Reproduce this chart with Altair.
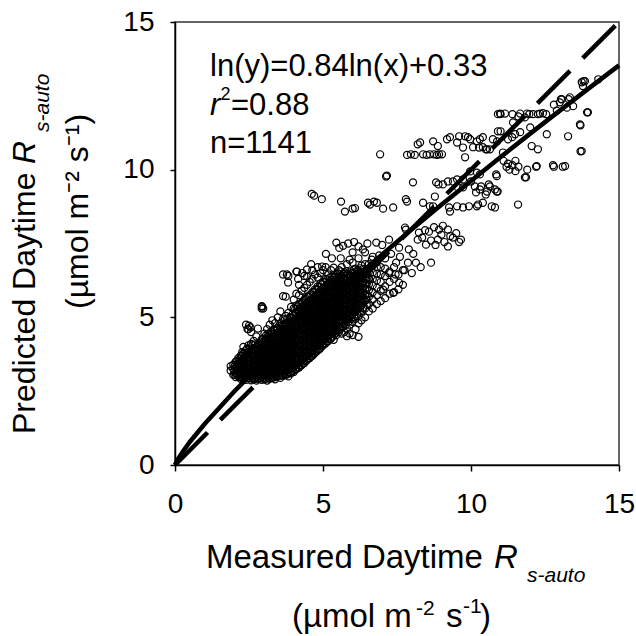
import altair as alt
import pandas as pd

# ---------------- data ----------------
# dense cloud, set A: measured value (column) -> predicted values
blob_x = [1.88, 1.97, 2.05, 2.14, 2.22, 2.31, 2.40, 2.48, 2.57, 2.66, 2.75, 2.84, 2.93, 3.02, 3.11,
          3.20, 3.29, 3.38, 3.47, 3.56, 3.65, 3.74, 3.83, 3.92, 4.01, 4.10, 4.19, 4.28, 4.37, 4.46,
          4.55, 4.64, 4.73, 4.82, 4.91, 5.00, 5.09, 5.18, 5.27, 5.36, 5.45, 5.54, 5.63, 5.72, 5.81,
          5.90, 6.00, 6.10, 6.20, 6.30, 6.42, 6.55, 6.68, 6.82, 6.95, 7.10, 7.25, 7.40, 7.55, 7.70]
blob_y = [
    [3.2, 3.35],
    [3.05, 3.25, 3.4],
    [2.98, 3.12, 3.3, 3.5],
    [3.0, 3.15, 3.28, 3.45, 3.62],
    [2.92, 3.08, 3.22, 3.36, 3.5, 3.7],
    [2.9, 3.05, 3.18, 3.33, 3.47, 3.6, 3.78, 4.0],
    [2.88, 3.02, 3.15, 3.3, 3.44, 3.58, 3.72, 3.9, 4.75],
    [2.95, 3.1, 3.24, 3.38, 3.52, 3.66, 3.82, 4.05, 4.6],
    [2.87, 3.0, 3.14, 3.28, 3.42, 3.56, 3.7, 3.86, 4.1, 4.5],
    [2.9, 3.05, 3.2, 3.34, 3.48, 3.62, 3.77, 3.93, 4.2],
    [2.86, 2.98, 3.12, 3.27, 3.4, 3.55, 3.7, 3.84, 4.0, 4.35],
    [2.92, 3.06, 3.2, 3.35, 3.5, 3.64, 3.78, 3.95, 4.12],
    [2.88, 3.02, 3.16, 3.3, 3.45, 3.58, 3.72, 3.88, 4.05, 4.25, 5.3, 5.38],
    [2.9, 3.04, 3.18, 3.33, 3.47, 3.6, 3.75, 3.9, 4.06, 4.22, 4.45],
    [2.86, 3.0, 3.14, 3.28, 3.42, 3.56, 3.7, 3.85, 4.0, 4.15, 4.32, 4.6],
    [2.92, 3.07, 3.22, 3.36, 3.5, 3.64, 3.78, 3.93, 4.08, 4.24, 4.4, 4.75],
    [2.95, 3.1, 3.25, 3.4, 3.54, 3.68, 3.82, 3.97, 4.12, 4.28, 4.5, 4.9],
    [2.9, 3.04, 3.18, 3.32, 3.46, 3.6, 3.75, 3.9, 4.05, 4.2, 4.36, 4.55, 4.8],
    [3.0, 3.14, 3.28, 3.43, 3.57, 3.72, 3.86, 4.0, 4.15, 4.3, 4.46, 4.65, 5.0],
    [2.95, 3.1, 3.25, 3.4, 3.55, 3.7, 3.84, 3.98, 4.13, 4.28, 4.43, 4.6, 4.8, 5.2],
    [3.02, 3.18, 3.33, 3.48, 3.62, 3.77, 3.92, 4.06, 4.2, 4.36, 4.52, 4.7, 4.95, 6.45],
    [3.05, 3.2, 3.36, 3.5, 3.65, 3.8, 3.95, 4.1, 4.25, 4.4, 4.56, 4.75, 5.05, 5.7],
    [3.0, 3.14, 3.3, 3.45, 3.6, 3.74, 3.9, 4.04, 4.2, 4.35, 4.5, 4.66, 4.85, 5.15, 6.4],
    [3.1, 3.26, 3.42, 3.57, 3.72, 3.87, 4.02, 4.17, 4.32, 4.48, 4.64, 4.8, 5.0, 5.35],
    [3.15, 3.3, 3.46, 3.6, 3.76, 3.9, 4.05, 4.2, 4.36, 4.52, 4.68, 4.85, 5.05, 5.3, 5.6],
    [3.25, 3.4, 3.55, 3.7, 3.85, 4.0, 4.15, 4.3, 4.46, 4.62, 4.78, 4.95, 5.15, 5.4, 5.8, 6.55],
    [3.3, 3.46, 3.62, 3.77, 3.92, 4.08, 4.23, 4.38, 4.54, 4.7, 4.86, 5.02, 5.2, 5.45, 5.75, 6.1],
    [3.38, 3.54, 3.7, 3.85, 4.0, 4.15, 4.3, 4.46, 4.62, 4.78, 4.94, 5.1, 5.28, 5.5, 5.9],
    [3.45, 3.6, 3.76, 3.92, 4.08, 4.24, 4.4, 4.55, 4.7, 4.86, 5.02, 5.18, 5.36, 5.6, 6.0, 6.4],
    [3.55, 3.7, 3.86, 4.02, 4.18, 4.34, 4.5, 4.66, 4.82, 4.98, 5.14, 5.3, 5.48, 5.7, 6.1, 6.38],
    [3.62, 3.78, 3.94, 4.1, 4.26, 4.42, 4.58, 4.74, 4.9, 5.06, 5.22, 5.38, 5.55, 5.75, 6.2],
    [3.7, 3.86, 4.02, 4.18, 4.34, 4.5, 4.66, 4.82, 4.98, 5.14, 5.3, 5.46, 5.63, 5.85, 6.3, 6.6],
    [3.8, 3.96, 4.12, 4.28, 4.44, 4.6, 4.76, 4.92, 5.08, 5.24, 5.4, 5.56, 5.72, 5.95, 6.45],
    [3.88, 4.04, 4.2, 4.36, 4.52, 4.68, 4.84, 5.0, 5.16, 5.32, 5.48, 5.64, 5.8, 6.05, 6.35, 6.7],
    [3.95, 4.12, 4.28, 4.44, 4.6, 4.76, 4.92, 5.08, 5.24, 5.4, 5.56, 5.72, 5.9, 6.15, 6.5],
    [4.05, 4.2, 4.36, 4.52, 4.68, 4.84, 5.0, 5.16, 5.32, 5.48, 5.64, 5.8, 5.98, 6.2, 6.6],
    [4.12, 4.28, 4.44, 4.6, 4.76, 4.92, 5.08, 5.24, 5.4, 5.56, 5.72, 5.88, 6.05, 6.3, 6.7],
    [4.2, 4.36, 4.52, 4.68, 4.84, 5.0, 5.16, 5.32, 5.48, 5.64, 5.8, 5.96, 6.15, 6.45],
    [4.28, 4.44, 4.6, 4.76, 4.92, 5.08, 5.24, 5.4, 5.56, 5.72, 5.88, 6.05, 6.25, 6.6],
    [4.24, 4.5, 4.68, 4.84, 5.0, 5.16, 5.32, 5.48, 5.64, 5.8, 5.96, 6.12, 6.35, 6.68],
    [4.4, 4.58, 4.76, 4.92, 5.08, 5.24, 5.4, 5.56, 5.72, 5.88, 6.04, 6.2, 6.45],
    [4.5, 4.68, 4.85, 5.02, 5.18, 5.34, 5.5, 5.66, 5.82, 5.98, 6.14, 6.32, 6.6],
    [4.45, 4.7, 4.9, 5.08, 5.26, 5.42, 5.58, 5.74, 5.9, 6.06, 6.22, 6.4, 6.7],
    [4.5, 4.78, 5.0, 5.18, 5.35, 5.52, 5.68, 5.84, 6.0, 6.16, 6.32, 6.52],
    [4.36, 4.62, 4.9, 5.1, 5.28, 5.45, 5.62, 5.78, 5.94, 6.1, 6.26, 6.45, 6.8],
    [4.45, 4.75, 5.0, 5.2, 5.38, 5.56, 5.72, 5.88, 6.04, 6.2, 6.38, 6.95],
    [4.4, 4.85, 5.1, 5.3, 5.48, 5.65, 5.82, 5.98, 6.14, 6.3, 6.5, 6.85],
    [4.6, 4.95, 5.2, 5.4, 5.58, 5.75, 5.92, 6.08, 6.25, 6.42, 6.65],
    [4.34, 4.8, 5.05, 5.3, 5.5, 5.68, 5.85, 6.02, 6.2, 6.38, 6.6, 7.0],
    [4.9, 5.15, 5.4, 5.6, 5.78, 5.96, 6.14, 6.32, 6.5, 6.75],
    [5.0, 5.3, 5.55, 5.75, 5.95, 6.15, 6.35, 6.55, 6.8, 7.2],
    [5.2, 5.45, 5.7, 5.92, 6.12, 6.32, 6.55, 6.8],
    [5.3, 5.6, 5.85, 6.08, 6.3, 6.52, 6.75, 7.05],
    [5.45, 5.75, 6.0, 6.25, 6.48, 6.7],
    [5.55, 5.9, 6.2, 6.45, 6.7],
    [5.65, 6.05, 6.4, 6.65],
    [5.8, 6.2, 6.55],
    [5.85, 6.3, 6.7],
    [5.95, 6.45],
    [6.1, 6.6],
]

# dense cloud, set B (core of the cloud, between the columns of set A)
core_x = [2.01, 2.10, 2.18, 2.27, 2.36, 2.44, 2.53, 2.62, 2.71, 2.80, 2.89, 2.98, 3.07, 3.16, 3.25,
          3.34, 3.43, 3.52, 3.61, 3.70, 3.79, 3.88, 3.97, 4.06, 4.15, 4.24, 4.33, 4.42, 4.51, 4.60,
          4.69, 4.78, 4.87, 4.96, 5.05, 5.14, 5.23, 5.32, 5.41, 5.50, 5.59, 5.68, 5.77, 5.86, 5.95,
          6.05, 6.15, 6.25, 6.36, 6.48]
core_y = [
    [3.06, 3.2, 3.34],
    [3.04, 3.2, 3.36, 3.52],
    [2.98, 3.14, 3.29, 3.43, 3.58],
    [2.97, 3.12, 3.26, 3.4, 3.55, 3.69, 3.82],
    [2.95, 3.09, 3.23, 3.37, 3.51, 3.65, 3.8],
    [2.94, 3.08, 3.22, 3.37, 3.51, 3.65, 3.79, 3.94],
    [2.93, 3.07, 3.21, 3.35, 3.49, 3.63, 3.78, 3.95],
    [2.94, 3.08, 3.22, 3.36, 3.5, 3.64, 3.79, 3.94, 4.06],
    [2.92, 3.06, 3.2, 3.34, 3.48, 3.62, 3.77, 3.92, 4.08],
    [2.93, 3.06, 3.2, 3.34, 3.48, 3.62, 3.76, 3.91, 4.06],
    [2.94, 3.08, 3.22, 3.37, 3.51, 3.65, 3.8, 3.95, 4.1, 4.18],
    [2.95, 3.1, 3.24, 3.38, 3.53, 3.67, 3.82, 3.97, 4.13, 4.28],
    [2.93, 3.07, 3.21, 3.35, 3.5, 3.64, 3.78, 3.93, 4.08, 4.23, 4.38],
    [2.94, 3.08, 3.22, 3.36, 3.5, 3.65, 3.8, 3.95, 4.1, 4.26, 4.45],
    [2.98, 3.13, 3.28, 3.43, 3.58, 3.72, 3.87, 4.02, 4.17, 4.33, 4.52],
    [2.97, 3.11, 3.25, 3.39, 3.53, 3.68, 3.83, 3.98, 4.13, 4.28, 4.44, 4.6],
    [2.98, 3.12, 3.26, 3.4, 3.55, 3.7, 3.85, 3.99, 4.14, 4.3, 4.46, 4.62],
    [3.02, 3.17, 3.32, 3.47, 3.62, 3.76, 3.91, 4.06, 4.21, 4.36, 4.52, 4.7],
    [3.04, 3.19, 3.34, 3.49, 3.64, 3.79, 3.94, 4.09, 4.24, 4.4, 4.56, 4.74],
    [3.08, 3.23, 3.38, 3.53, 3.68, 3.83, 3.98, 4.13, 4.28, 4.44, 4.6, 4.78, 4.9],
    [3.07, 3.22, 3.37, 3.52, 3.67, 3.82, 3.97, 4.12, 4.28, 4.43, 4.59, 4.76, 4.95],
    [3.12, 3.27, 3.42, 3.57, 3.72, 3.87, 4.02, 4.17, 4.32, 4.48, 4.64, 4.81, 5.0],
    [3.18, 3.33, 3.48, 3.64, 3.79, 3.94, 4.1, 4.25, 4.4, 4.56, 4.72, 4.9, 5.1],
    [3.22, 3.38, 3.53, 3.68, 3.83, 3.98, 4.13, 4.28, 4.44, 4.6, 4.76, 4.93, 5.12, 5.28],
    [3.3, 3.46, 3.62, 3.77, 3.92, 4.07, 4.22, 4.38, 4.54, 4.7, 4.86, 5.03, 5.22, 5.38],
    [3.36, 3.52, 3.68, 3.84, 4.0, 4.15, 4.3, 4.46, 4.62, 4.78, 4.94, 5.11, 5.3, 5.45],
    [3.44, 3.6, 3.76, 3.92, 4.08, 4.23, 4.38, 4.54, 4.7, 4.86, 5.02, 5.19, 5.38, 5.55],
    [3.52, 3.68, 3.84, 4.0, 4.16, 4.32, 4.48, 4.63, 4.78, 4.94, 5.1, 5.27, 5.45, 5.62],
    [3.6, 3.76, 3.92, 4.08, 4.24, 4.4, 4.56, 4.72, 4.88, 5.04, 5.2, 5.36, 5.53, 5.7],
    [3.68, 3.84, 4.0, 4.16, 4.32, 4.48, 4.64, 4.8, 4.96, 5.12, 5.28, 5.44, 5.6, 5.78],
    [3.76, 3.92, 4.08, 4.24, 4.4, 4.56, 4.72, 4.88, 5.04, 5.2, 5.36, 5.52, 5.68, 5.86],
    [3.84, 4.0, 4.16, 4.32, 4.48, 4.64, 4.8, 4.96, 5.12, 5.28, 5.44, 5.6, 5.76, 5.94],
    [3.92, 4.08, 4.24, 4.4, 4.56, 4.72, 4.88, 5.04, 5.2, 5.36, 5.52, 5.68, 5.84, 6.02],
    [4.02, 4.18, 4.34, 4.5, 4.66, 4.82, 4.98, 5.14, 5.3, 5.46, 5.62, 5.78, 5.95, 6.12],
    [4.1, 4.26, 4.42, 4.58, 4.74, 4.9, 5.06, 5.22, 5.38, 5.54, 5.7, 5.86, 6.03, 6.2],
    [4.18, 4.34, 4.5, 4.66, 4.82, 4.98, 5.14, 5.3, 5.46, 5.62, 5.78, 5.94, 6.1, 6.28],
    [4.26, 4.42, 4.58, 4.74, 4.9, 5.06, 5.22, 5.38, 5.54, 5.7, 5.86, 6.02, 6.18, 6.34],
    [4.34, 4.5, 4.66, 4.82, 4.98, 5.14, 5.3, 5.46, 5.62, 5.78, 5.94, 6.1, 6.26, 6.42],
    [4.45, 4.62, 4.78, 4.94, 5.1, 5.26, 5.42, 5.58, 5.74, 5.9, 6.06, 6.22, 6.38],
    [4.55, 4.72, 4.88, 5.04, 5.2, 5.36, 5.52, 5.68, 5.84, 6.0, 6.16, 6.32, 6.48],
    [4.6, 4.78, 4.95, 5.12, 5.28, 5.44, 5.6, 5.76, 5.92, 6.08, 6.24, 6.4, 6.55],
    [4.68, 4.86, 5.04, 5.2, 5.36, 5.52, 5.68, 5.84, 6.0, 6.16, 6.32, 6.48],
    [4.75, 4.94, 5.12, 5.28, 5.44, 5.6, 5.76, 5.92, 6.08, 6.24, 6.4, 6.56],
    [4.85, 5.04, 5.2, 5.36, 5.52, 5.68, 5.84, 6.0, 6.16, 6.32, 6.48],
    [4.95, 5.12, 5.28, 5.44, 5.6, 5.76, 5.92, 6.08, 6.24, 6.4, 6.56],
    [5.02, 5.2, 5.36, 5.52, 5.68, 5.84, 6.0, 6.16, 6.32, 6.48, 6.62],
    [5.1, 5.28, 5.46, 5.62, 5.78, 5.94, 6.1, 6.26, 6.42, 6.58],
    [5.2, 5.38, 5.55, 5.72, 5.88, 6.04, 6.2, 6.36, 6.52, 6.66],
    [5.3, 5.48, 5.66, 5.84, 6.0, 6.16, 6.32, 6.48, 6.64],
    [5.42, 5.6, 5.78, 5.96, 6.14, 6.3, 6.46, 6.62],
]

# scattered points outside the dense cloud (measured, predicted)
scatter_x = [2.94, 2.98, 2.50, 2.45, 2.55, 2.80, 3.78, 3.82, 4.12, 4.46, 3.65, 4.97, 4.16, 4.30, 4.60,
             5.45, 5.55, 5.68, 5.85, 6.00, 6.05, 6.20, 6.35, 6.50, 6.80, 7.00, 7.23, 7.57, 7.80, 7.77,
             7.47, 7.87, 8.14, 8.65, 7.23, 7.57, 7.37, 7.03, 6.55, 6.80, 6.90, 7.10, 7.30, 7.60, 7.45,
             7.75, 8.00, 8.30, 7.90, 8.05, 6.65, 5.30, 5.10, 5.60,
             8.24, 8.35, 8.45, 8.58, 8.65, 8.75, 8.88, 8.92, 9.00, 9.10, 9.22, 9.30, 9.39, 9.50, 9.66,
             9.60, 8.48, 9.22, 8.20, 8.80, 9.05,
             4.62, 4.70, 4.96, 5.61, 5.74, 6.00, 6.08, 6.52, 6.59, 6.72, 6.82, 7.03, 7.37, 7.80, 7.84,
             8.38, 8.61, 8.72, 8.78, 9.26, 9.29, 9.53, 9.73, 9.93, 10.20, 10.24, 10.40, 10.70, 10.81, 11.59,
             7.13, 7.16, 8.04, 8.82, 8.90, 9.05, 9.22, 9.39, 9.56, 9.73, 10.00, 10.13, 10.17, 10.30, 10.34,
             10.50, 10.54, 10.60, 10.64, 10.81, 10.87, 10.90, 10.87, 9.53, 9.73, 9.97, 10.20, 10.30, 10.85,
             11.86, 11.82,
             11.10, 11.20, 11.25, 11.30, 11.40, 11.50, 11.50, 11.60, 11.90, 12.20, 12.22, 12.77, 12.80,
             13.10, 13.18, 13.70, 13.74,
             6.93, 7.84, 7.97, 8.10, 8.38, 8.50, 8.61, 8.75, 8.85, 8.92, 9.02, 9.80,
             8.20, 8.28, 8.72, 8.88, 9.19, 9.29, 9.53, 9.60, 9.73, 9.80, 9.90, 9.97, 10.07, 10.20, 10.27,
             10.30, 10.40, 10.40, 10.50, 10.54, 10.64, 10.74, 10.88, 10.91, 11.00, 11.08, 11.25, 11.39,
             11.49, 11.66, 12.00, 12.05, 12.26, 12.56, 13.28, 13.68, 13.70,
             10.91, 10.98, 11.00, 11.15, 11.40, 11.42, 11.60, 11.66, 11.82, 11.89, 11.97, 12.10, 12.26,
             12.33, 12.43, 12.54, 13.92, 13.95,
             13.00, 13.04, 13.07, 13.24, 13.30, 13.34, 13.45, 13.74, 13.78, 13.80, 13.85, 14.30, 12.80, 12.90]
scatter_y = [5.36, 5.30, 4.72, 4.60, 4.66, 4.62, 6.45, 6.18, 6.55, 6.62, 5.72, 6.72, 6.30, 6.50, 6.80,
             7.53, 7.35, 7.42, 7.50, 7.20, 7.55, 7.40, 7.30, 7.50, 7.53, 7.45, 7.63, 7.36, 7.97, 8.04,
             6.85, 6.85, 6.85, 6.85, 6.50, 6.17, 5.83, 5.94, 6.28, 6.85, 7.10, 7.00, 7.15, 7.05, 6.45,
             6.60, 6.50, 6.70, 7.30, 7.15, 6.95, 7.00, 7.15, 7.00,
             7.87, 7.70, 7.95, 7.90, 7.60, 8.05, 7.63, 7.97, 7.80, 7.55, 7.97, 7.75, 7.70, 7.85, 7.63,
             7.55, 7.46, 7.40, 7.63, 7.45, 8.10,
             9.18, 9.12, 9.00, 8.92, 8.58, 8.68, 8.70, 8.88, 8.82, 8.92, 8.88, 8.68, 8.72, 9.00, 8.92,
             8.88, 8.76, 8.76, 9.09, 8.72, 8.58, 8.76, 8.72, 8.76, 8.76, 8.82, 8.88, 8.76, 8.72, 8.82,
             9.77, 9.80, 9.57, 9.57, 9.50, 9.50, 9.60, 9.60, 9.40, 9.40, 9.60, 9.43, 9.23, 9.33, 9.43,
             9.16, 9.26, 9.50, 9.43, 9.33, 9.26, 9.26, 9.78, 9.67, 9.67, 9.94, 9.90, 9.84, 9.84,
             9.74, 9.74,
             10.30, 10.10, 10.20, 10.00, 10.15, 10.30, 9.95, 10.10, 10.00, 10.10, 10.12, 10.15, 10.10,
             10.10, 10.12, 10.62, 10.63,
             10.52, 10.50, 10.52, 10.50, 10.52, 10.50, 10.52, 10.52, 10.50, 10.52, 10.52, 10.42,
             10.86, 10.92, 10.96, 10.80, 11.03, 11.10, 10.92, 11.13, 10.75, 11.13, 11.10, 11.03, 10.76, 10.96, 10.75,
             11.03, 10.76, 11.10, 10.69, 10.69, 10.69, 11.03, 10.96, 11.30, 11.30, 10.58, 11.03, 11.10,
             11.20, 11.27, 11.43, 10.80, 10.69, 11.20, 11.13, 11.53, 11.50,
             11.88, 11.90, 11.88, 11.90, 11.88, 11.60, 11.80, 11.90, 11.77, 11.90, 11.88, 11.88, 11.88,
             11.90, 11.91, 11.88, 11.94, 11.94,
             12.28, 12.39, 12.38, 12.10, 12.39, 12.45, 12.15, 12.96, 12.83, 13.00, 13.00, 13.06, 12.20, 12.00]

# fitted curve ln(y)=0.84ln(x)+0.33
fit_x = [0, 0.1, 0.25, 0.5, 1, 2, 3, 4, 5, 6, 7, 8, 9, 10, 11, 12, 13, 14, 15]
fit_y = [0, 0.20, 0.43, 0.78, 1.39, 2.49, 3.50, 4.46, 5.38, 6.27, 7.13, 7.98, 8.81, 9.62, 10.43,
         11.22, 12.00, 12.77, 13.53]

# 1:1 line
one_x = [0, 15]
one_y = [0, 15]

ticks = [0, 5, 10, 15]

# ---------------- tables ----------------
rows = []
for cols, vals in ((blob_x, blob_y), (core_x, core_y)):
    for xv, ys in zip(cols, vals):
        for yv in ys:
            rows.append({"m": xv, "p": yv})
for xv, yv in zip(scatter_x, scatter_y):
    rows.append({"m": xv, "p": yv})
pts = pd.DataFrame(rows)
fit = pd.DataFrame({"m": fit_x, "p": fit_y})
one = pd.DataFrame({"m": one_x, "p": one_y})

FONT = "Liberation Sans"
NARROW = "Liberation Sans Narrow, Liberation Sans"
xsc = alt.Scale(domain=[0, 15], nice=False, zero=False)
ysc = alt.Scale(domain=[0, 15], nice=False, zero=False)

xax = alt.Axis(values=ticks, title=None, labelFlush=False, labelPadding=19, tickSize=6)
yax = alt.Axis(values=ticks, title=None, labelPadding=16, tickSize=5)

points = alt.Chart(pts).mark_point(
    shape="circle", filled=False, size=50, strokeWidth=1.2, color="black", opacity=1
).encode(
    x=alt.X("m:Q", scale=xsc, axis=xax),
    y=alt.Y("p:Q", scale=ysc, axis=yax),
)

fit_line = alt.Chart(fit).mark_line(color="black", strokeWidth=4.5).encode(
    x=alt.X("m:Q", scale=xsc), y=alt.Y("p:Q", scale=ysc)
)
one_line = alt.Chart(one).mark_line(color="black", strokeWidth=4.5, strokeDash=[46, 18]).encode(
    x=alt.X("m:Q", scale=xsc), y=alt.Y("p:Q", scale=ysc)
)


def txt(s, x, y, size, italic=False, angle=0, font=FONT):
    return alt.Chart(pd.DataFrame({"k": [0]})).mark_text(
        text=s, align="left", baseline="alphabetic", fontSize=size, font=font,
        fontStyle="italic" if italic else "normal", angle=angle, color="black"
    ).encode(x=alt.value(x), y=alt.value(y))


texts = [
    # equation block
    txt("ln(y)=0.84ln(x)+0.33", 35, 54, 31),
    txt("r", 35, 93, 31, italic=True),
    txt("2", 45.5, 78, 18),
    txt("=0.88", 56, 93, 31),
    txt("n=1141", 35, 131, 31),
    # x title
    txt("Measured Daytime", 31, 546, 33),
    txt("R", 319, 546, 33, italic=True),
    txt("s-auto", 352, 560, 21, italic=True),
    txt("(µmol m", 117, 605, 33),
    txt("-2", 241, 593, 21),
    txt("s", 271, 605, 33),
    txt("-1", 288, 591, 21),
    txt(")", 305, 605, 33),
    # y title (rotated)
    txt("Predicted Daytime", -140, 412, 32, angle=270),
    txt("R", -140, 142, 32, italic=True, angle=270),
    txt("s-auto", -126, 110, 21, italic=True, angle=270),
    txt("(µmol m⁻² s⁻¹)", -87, 287, 32, angle=270, font=NARROW),
]

chart = alt.layer(points, fit_line, one_line, *texts).properties(
    width=444, height=443,
    autosize=alt.AutoSizeParams(type="none"),
    padding={"left": 175, "top": 22, "right": 17, "bottom": 171},
).configure_view(
    stroke="#333333", strokeWidth=1.5
).configure_axis(
    grid=False, domainColor="black", domainWidth=1.5, tickColor="black", tickWidth=1.5,
    labelFont=FONT, labelFontSize=28, labelColor="black"
)

chart.save("out.html", embed_options={"renderer": "svg", "actions": False})
